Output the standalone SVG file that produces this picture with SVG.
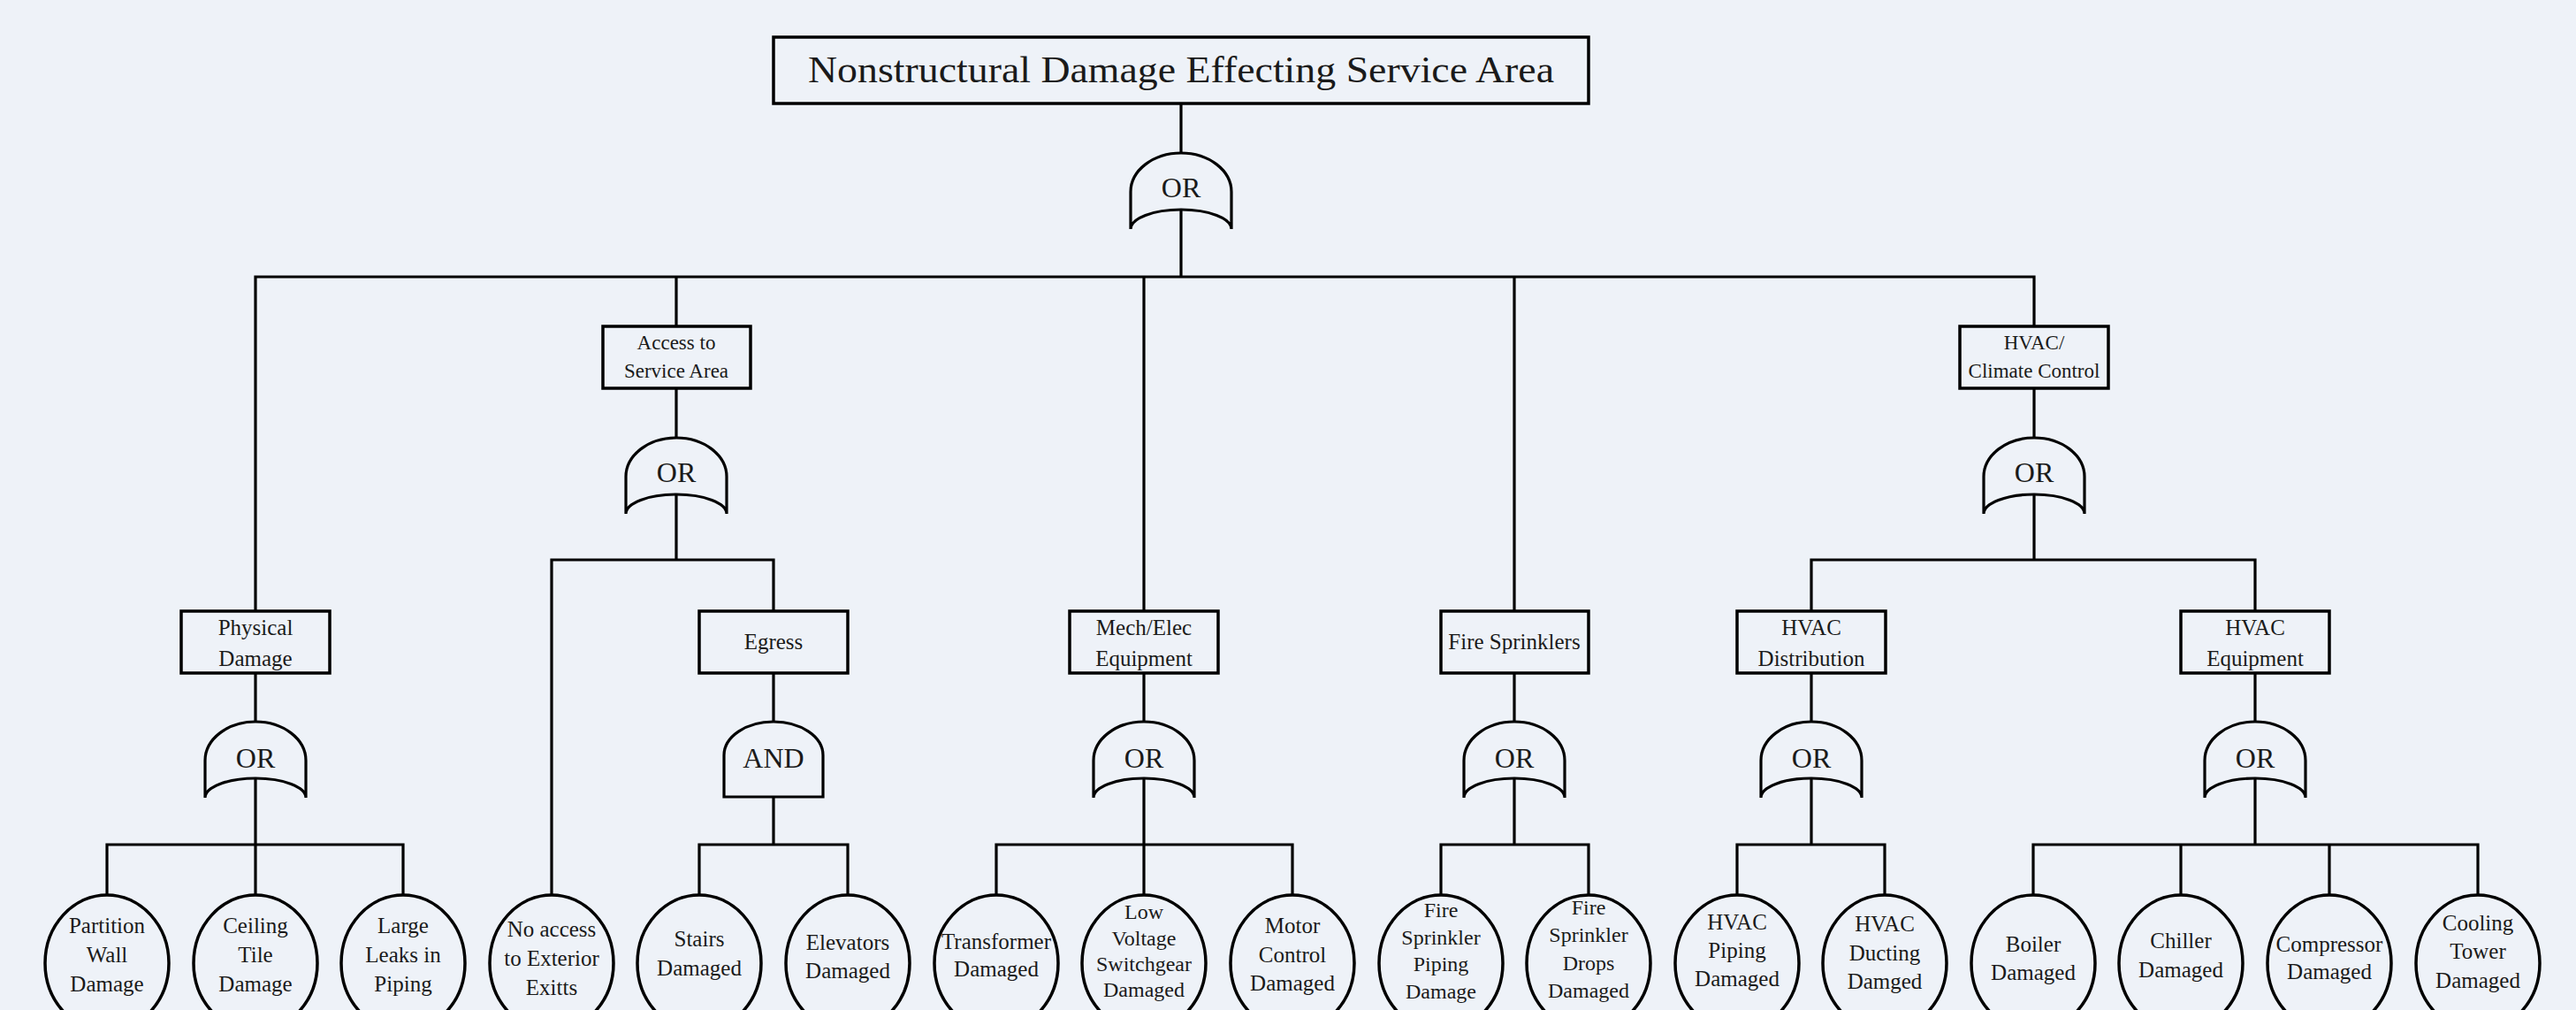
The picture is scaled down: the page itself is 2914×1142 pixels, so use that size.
<svg xmlns="http://www.w3.org/2000/svg" xmlns:xlink="http://www.w3.org/1999/xlink" width="2914" height="1142" viewBox="0 0 2914 1142">
<style>
.bg{fill:#eef2f8}
.box{fill:none;stroke:#000;stroke-width:3.5}
.gate{fill:none;stroke:#000;stroke-width:3.2}
.ev{fill:none;stroke:#000;stroke-width:3.5}
.c{fill:none;stroke:#000;stroke-width:3.2;stroke-linejoin:miter}
text{font-family:"Liberation Serif","DejaVu Serif",serif;fill:#1a1a1a;text-anchor:middle}
.t1{font-size:23px}
.t2{font-size:25px}
.tl{font-size:25px}
.tl4{font-size:24px}
.tg{font-size:32px}
</style>
<defs>
<path id="orShape" d="M-57,86 L-57,44 A57,44 0 0 1 57,44 L57,86 A57,22 0 0 0 -57,86 Z"/>
<path id="andShape" d="M-56,85 L-56,38 A56,38 0 0 1 56,38 L56,85 Z"/>
</defs>
<rect class="bg" x="0" y="0" width="2914" height="1142"/>

<g id="connectors">
<path class="c" d="M1336,117 V173 M1336,237 V313"/>
<path class="c" d="M289,691 V313 H2301 V369"/>
<path class="c" d="M765,313 V369 M1294,313 V691 M1713,313 V691"/>
<path class="c" d="M765,439 V495 M765,559 V633"/>
<path class="c" d="M624,1012 V633 H875 V691"/>
<path class="c" d="M2301,440 V495 M2301,559 V633"/>
<path class="c" d="M2049,691 V633 H2551 V691"/>
<path class="c" d="M289,761 V816 M289,880 V955 M121,1012 V955 H456 V1012 M289,955 V1012"/>
<path class="c" d="M875,761 V816 M875,901 V955 M791,1012 V955 H959 V1012"/>
<path class="c" d="M1294,761 V816 M1294,880 V955 M1127,1012 V955 H1462 V1012 M1294,955 V1012"/>
<path class="c" d="M1713,761 V816 M1713,880 V955 M1630,1012 V955 H1797 V1012"/>
<path class="c" d="M2049,761 V816 M2049,880 V955 M1965,1012 V955 H2132 V1012"/>
<path class="c" d="M2551,761 V816 M2551,880 V955 M2300,1012 V955 H2803 V1012 M2467,955 V1012 M2635,955 V1012"/>
</g>

<g id="root">
<rect class="box" x="875" y="42" width="922" height="75"/>
<text x="1336" y="93" font-size="43" textLength="844" lengthAdjust="spacingAndGlyphs">Nonstructural Damage Effecting Service Area</text>
</g>
<g id="gate-root"><use xlink:href="#orShape" href="#orShape" class="gate" x="1336" y="173"/><text class="tg" x="1336" y="223">OR</text></g>

<g id="access">
<rect class="box" x="682" y="369" width="167" height="70"/>
<text class="t1" x="765" y="395">Access to</text>
<text class="t1" x="765" y="427">Service Area</text>
</g>
<g id="gate-access"><use xlink:href="#orShape" href="#orShape" class="gate" x="765" y="495"/><text class="tg" x="765" y="545">OR</text></g>

<g id="hvac-climate">
<rect class="box" x="2217" y="369" width="168" height="70"/>
<text class="t1" x="2301" y="395">HVAC/</text>
<text class="t1" x="2301" y="427">Climate Control</text>
</g>
<g id="gate-hvac-climate"><use xlink:href="#orShape" href="#orShape" class="gate" x="2301" y="495"/><text class="tg" x="2301" y="545">OR</text></g>

<g id="physical">
<rect class="box" x="205" y="691" width="168" height="70"/>
<text class="t2" x="289" y="718">Physical</text>
<text class="t2" x="289" y="753">Damage</text>
</g>
<g id="gate-physical"><use xlink:href="#orShape" href="#orShape" class="gate" x="289" y="816"/><text class="tg" x="289" y="868">OR</text></g>

<g id="egress">
<rect class="box" x="791" y="691" width="168" height="70"/>
<text class="t2" x="875" y="734">Egress</text>
</g>
<g id="gate-egress"><use xlink:href="#andShape" href="#andShape" class="gate" x="875" y="816"/><text class="tg" x="875" y="868">AND</text></g>

<g id="mech-elec">
<rect class="box" x="1210" y="691" width="168" height="70"/>
<text class="t2" x="1294" y="718">Mech/Elec</text>
<text class="t2" x="1294" y="753">Equipment</text>
</g>
<g id="gate-mech-elec"><use xlink:href="#orShape" href="#orShape" class="gate" x="1294" y="816"/><text class="tg" x="1294" y="868">OR</text></g>

<g id="fire-sprinklers">
<rect class="box" x="1630" y="691" width="167" height="70"/>
<text class="t2" x="1713" y="734">Fire Sprinklers</text>
</g>
<g id="gate-fire"><use xlink:href="#orShape" href="#orShape" class="gate" x="1713" y="816"/><text class="tg" x="1713" y="868">OR</text></g>

<g id="hvac-distribution">
<rect class="box" x="1965" y="691" width="168" height="70"/>
<text class="t2" x="2049" y="718">HVAC</text>
<text class="t2" x="2049" y="753">Distribution</text>
</g>
<g id="gate-hvac-dist"><use xlink:href="#orShape" href="#orShape" class="gate" x="2049" y="816"/><text class="tg" x="2049" y="868">OR</text></g>

<g id="hvac-equipment">
<rect class="box" x="2467" y="691" width="168" height="70"/>
<text class="t2" x="2551" y="718">HVAC</text>
<text class="t2" x="2551" y="753">Equipment</text>
</g>
<g id="gate-hvac-eq"><use xlink:href="#orShape" href="#orShape" class="gate" x="2551" y="816"/><text class="tg" x="2551" y="868">OR</text></g>

<g id="e-partition"><ellipse class="ev" cx="121" cy="1089" rx="70" ry="77"/>
<text class="tl" x="121" y="1055">Partition</text><text class="tl" x="121" y="1088">Wall</text><text class="tl" x="121" y="1121">Damage</text></g>
<g id="e-ceiling"><ellipse class="ev" cx="289" cy="1089" rx="70" ry="77"/>
<text class="tl" x="289" y="1055">Ceiling</text><text class="tl" x="289" y="1088">Tile</text><text class="tl" x="289" y="1121">Damage</text></g>
<g id="e-leaks"><ellipse class="ev" cx="456" cy="1089" rx="70" ry="77"/>
<text class="tl" x="456" y="1055">Large</text><text class="tl" x="456" y="1088">Leaks in</text><text class="tl" x="456" y="1121">Piping</text></g>
<g id="e-noaccess"><ellipse class="ev" cx="624" cy="1089" rx="70" ry="77"/>
<text class="tl" x="624" y="1059">No access</text><text class="tl" x="624" y="1092">to Exterior</text><text class="tl" x="624" y="1125">Exitts</text></g>
<g id="e-stairs"><ellipse class="ev" cx="791" cy="1089" rx="70" ry="77"/>
<text class="tl" x="791" y="1070">Stairs</text><text class="tl" x="791" y="1103">Damaged</text></g>
<g id="e-elevators"><ellipse class="ev" cx="959" cy="1089" rx="70" ry="77"/>
<text class="tl" x="959" y="1074">Elevators</text><text class="tl" x="959" y="1106">Damaged</text></g>
<g id="e-transformer"><ellipse class="ev" cx="1127" cy="1089" rx="70" ry="77"/>
<text class="tl" x="1127" y="1073">Transformer</text><text class="tl" x="1127" y="1104">Damaged</text></g>
<g id="e-lowvoltage"><ellipse class="ev" cx="1294" cy="1089" rx="70" ry="77"/>
<text class="tl4" x="1294" y="1039">Low</text><text class="tl4" x="1294" y="1069">Voltage</text><text class="tl4" x="1294" y="1098">Switchgear</text><text class="tl4" x="1294" y="1127">Damaged</text></g>
<g id="e-motor"><ellipse class="ev" cx="1462" cy="1089" rx="70" ry="77"/>
<text class="tl" x="1462" y="1055">Motor</text><text class="tl" x="1462" y="1088">Control</text><text class="tl" x="1462" y="1120">Damaged</text></g>
<g id="e-sprinkler-piping"><ellipse class="ev" cx="1630" cy="1089" rx="70" ry="77"/>
<text class="tl4" x="1630" y="1037">Fire</text><text class="tl4" x="1630" y="1068">Sprinkler</text><text class="tl4" x="1630" y="1098">Piping</text><text class="tl4" x="1630" y="1129">Damage</text></g>
<g id="e-sprinkler-drops"><ellipse class="ev" cx="1797" cy="1089" rx="70" ry="77"/>
<text class="tl4" x="1797" y="1034">Fire</text><text class="tl4" x="1797" y="1065">Sprinkler</text><text class="tl4" x="1797" y="1097">Drops</text><text class="tl4" x="1797" y="1128">Damaged</text></g>
<g id="e-hvac-piping"><ellipse class="ev" cx="1965" cy="1089" rx="70" ry="77"/>
<text class="tl" x="1965" y="1051">HVAC</text><text class="tl" x="1965" y="1083">Piping</text><text class="tl" x="1965" y="1115">Damaged</text></g>
<g id="e-hvac-ducting"><ellipse class="ev" cx="2132" cy="1089" rx="70" ry="77"/>
<text class="tl" x="2132" y="1053">HVAC</text><text class="tl" x="2132" y="1086">Ducting</text><text class="tl" x="2132" y="1118">Damged</text></g>
<g id="e-boiler"><ellipse class="ev" cx="2300" cy="1089" rx="70" ry="77"/>
<text class="tl" x="2300" y="1076">Boiler</text><text class="tl" x="2300" y="1108">Damaged</text></g>
<g id="e-chiller"><ellipse class="ev" cx="2467" cy="1089" rx="70" ry="77"/>
<text class="tl" x="2467" y="1072">Chiller</text><text class="tl" x="2467" y="1105">Damaged</text></g>
<g id="e-compressor"><ellipse class="ev" cx="2635" cy="1089" rx="70" ry="77"/>
<text class="tl" x="2635" y="1076">Compressor</text><text class="tl" x="2635" y="1107">Damaged</text></g>
<g id="e-cooling"><ellipse class="ev" cx="2803" cy="1089" rx="70" ry="77"/>
<text class="tl" x="2803" y="1052">Cooling</text><text class="tl" x="2803" y="1084">Tower</text><text class="tl" x="2803" y="1117">Damaged</text></g>
</svg>
